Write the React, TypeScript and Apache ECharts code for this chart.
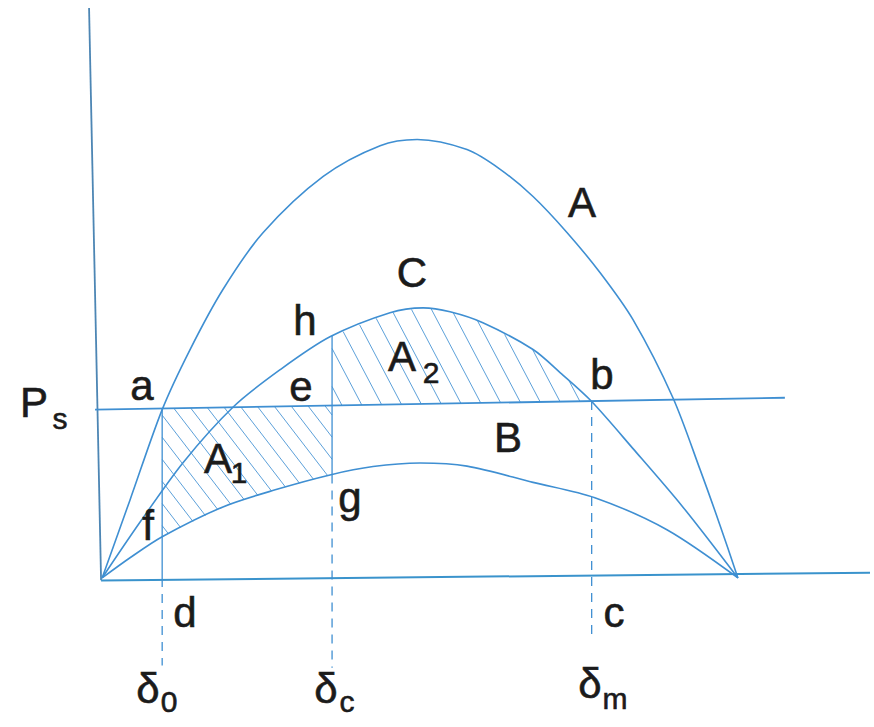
import React, { useEffect, useRef } from "react";
import * as echarts from "echarts";

// Load angle (degrees) vs. power (per unit)
const curveA: number[][] = [
  [0, 0], [7.9, 0.178], [17.0, 0.384], [24.9, 0.521], [34.2, 0.658], [45.6, 0.788],
  [62.6, 0.916], [78.7, 0.986], [89.2, 1.0], [103.3, 0.977], [112.7, 0.932],
  [122.0, 0.87], [131.6, 0.788], [141.0, 0.696], [150.3, 0.589], [161.6, 0.411],
  [169.3, 0.247], [174.9, 0.121], [180, 0],
];
const curveC: number[][] = [
  [0, 0], [10.8, 0.128], [22.9, 0.263], [37.1, 0.39], [50.4, 0.475], [64.5, 0.55],
  [81.5, 0.605], [90.9, 0.616], [98.5, 0.607], [107.8, 0.582], [122.0, 0.521],
  [130.0, 0.466], [138.4, 0.404], [150.3, 0.295], [164.4, 0.162], [180, 0],
];
const curveB: number[][] = [
  [0, 0], [7.9, 0.046], [17.0, 0.094], [34.2, 0.162], [49.0, 0.201], [64.5, 0.235],
  [76.7, 0.254], [90.0, 0.262], [103.3, 0.255], [122.0, 0.218], [139.5, 0.183],
  [159.9, 0.11], [180, 0],
];
const psLine: number[][] = [[-2.0, 0.384], [193.3, 0.411]];
const yAxisLine: number[][] = [[-3.7, 1.3], [-0.3, -0.005]];
const xAxisLine: number[][] = [[-0.3, -0.006], [217.4, 0.012]];
const delta0 = 17.0;
const deltaC = 65.1;
const deltaM = 138.6;
const dashEnd0 = -0.2;
const dashEndC = -0.205;
const dashEndM = -0.135;

const BLUE = "#3f8fd2";
const FONT = "'Liberation Sans', Arial, Helvetica, sans-serif";

function interp(arr: number[][], x: number): number {
  for (let i = 0; i < arr.length - 1; i++) {
    const [x1, y1] = arr[i];
    const [x2, y2] = arr[i + 1];
    if (x >= x1 && x <= x2) return y1 + ((y2 - y1) * (x - x1)) / (x2 - x1);
  }
  return arr[arr.length - 1][1];
}

function regionA1(): number[][] {
  const pts: number[][] = [];
  pts.push([delta0, interp(psLine, delta0)]);
  pts.push([deltaC, interp(psLine, deltaC)]);
  pts.push([deltaC, interp(curveB, deltaC)]);
  const inner = curveB.filter((p) => p[0] > delta0 && p[0] < deltaC).reverse();
  inner.forEach((p) => pts.push(p));
  pts.push([delta0, interp(curveB, delta0)]);
  return pts;
}
function regionA2(): number[][] {
  const pts: number[][] = [];
  pts.push([deltaC, interp(psLine, deltaC)]);
  pts.push([deltaC, interp(curveC, deltaC)]);
  curveC.filter((p) => p[0] > deltaC && p[0] < deltaM).forEach((p) => pts.push(p));
  pts.push([deltaM, interp(psLine, deltaM)]);
  return pts;
}

const labels: { t: string; x: number; y: number; s?: number }[] = [
  { t: "P", x: 34, y: 402 }, { t: "s", x: 60, y: 418, s: 30 },
  { t: "a", x: 142, y: 385 }, { t: "e", x: 301, y: 386 }, { t: "h", x: 305, y: 320 },
  { t: "C", x: 412, y: 272 }, { t: "A", x: 582, y: 202 },
  { t: "A", x: 402, y: 356 }, { t: "2", x: 431, y: 372, s: 30 },
  { t: "b", x: 602, y: 374 }, { t: "B", x: 508, y: 437 },
  { t: "A", x: 218, y: 458 }, { t: "1", x: 239, y: 472, s: 30 },
  { t: "f", x: 148, y: 525 }, { t: "g", x: 350, y: 497 },
  { t: "d", x: 185, y: 612 }, { t: "c", x: 614, y: 612 },
  { t: "δ", x: 148, y: 688 }, { t: "0", x: 169, y: 701, s: 30 },
  { t: "δ", x: 326, y: 688 }, { t: "c", x: 347, y: 701, s: 30 },
  { t: "δ", x: 590, y: 683 }, { t: "m", x: 615, y: 698, s: 30 },
];

export default function App() {
  const ref = useRef<HTMLDivElement>(null);
  useEffect(() => {
    document.body.style.margin = "0";
    const chart = echarts.init(ref.current!, undefined, { renderer: "svg" });
    const lineS = (data: number[][], width: number, type: any = "solid", smooth: any = false, color = BLUE) => ({
      type: "line",
      data,
      showSymbol: false,
      smooth,
      silent: true,
      lineStyle: { color, width, type },
      z: 3,
    });
    const hatch = [
      { poly: regionA1(), slope: 1.3, hs: 17 },
      { poly: regionA2(), slope: 1.9, hs: 20 },
    ];
    chart.setOption({
      animation: false,
      backgroundColor: "#ffffff",
      grid: { left: 88, right: 4, top: 8, bottom: 0 },
      xAxis: { type: "value", min: -4, max: 217.4, show: false },
      yAxis: { type: "value", min: -0.34, max: 1.3, show: false },
      series: [
        lineS(yAxisLine, 1.8, "solid", false, "#4d86b4"),
        lineS(xAxisLine, 2, "solid", false, "#3a93cc"),
        lineS(psLine, 1.8),
        lineS(curveA, 1.6, "solid", 0.3),
        lineS(curveC, 1.6, "solid", 0.3),
        lineS(curveB, 1.6, "solid", 0.3),
        lineS([[delta0, interp(psLine, delta0)], [delta0, 0]], 1.3),
        lineS([[delta0, 0], [delta0, dashEnd0]], 1.3, [9, 7]),
        lineS([[deltaC, interp(curveC, deltaC)], [deltaC, interp(curveB, deltaC)]], 1.3),
        lineS([[deltaC, interp(curveB, deltaC)], [deltaC, dashEndC]], 1.3, [9, 7]),
        lineS([[deltaM, interp(psLine, deltaM)], [deltaM, dashEndM]], 1.3, [9, 7]),
        {
          type: "custom",
          silent: true,
          data: [[0, 0]],
          z: 2,
          renderItem: (_p: any, api: any) => {
            const children: any[] = [];
            hatch.forEach(({ poly, slope, hs }) => {
              const pts = poly.map((p) => api.coord(p));
              const len = Math.hypot(1, slope);
              const d = [1 / len, slope / len];
              const n = [slope / len, -1 / len];
              const spacing = (hs * slope) / len;
              const proj = pts.map((p: number[]) => n[0] * p[0] + n[1] * p[1]);
              const cmin = Math.min(...proj);
              const cmax = Math.max(...proj);
              for (let c = cmin + spacing * 0.5; c < cmax; c += spacing) {
                const hits: number[][] = [];
                for (let i = 0; i < pts.length; i++) {
                  const j = (i + 1) % pts.length;
                  const f1 = proj[i] - c;
                  const f2 = proj[j] - c;
                  if (f1 < 0 !== f2 < 0) {
                    const t = f1 / (f1 - f2);
                    hits.push([
                      pts[i][0] + t * (pts[j][0] - pts[i][0]),
                      pts[i][1] + t * (pts[j][1] - pts[i][1]),
                    ]);
                  }
                }
                hits.sort((a, b) => a[0] * d[0] + a[1] * d[1] - (b[0] * d[0] + b[1] * d[1]));
                for (let k = 0; k + 1 < hits.length; k += 2) {
                  children.push({
                    type: "line",
                    shape: { x1: hits[k][0], y1: hits[k][1], x2: hits[k + 1][0], y2: hits[k + 1][1] },
                    style: { stroke: BLUE, lineWidth: 1, opacity: 0.85 },
                  });
                }
              }
            });
            return { type: "group", children };
          },
        },
      ],
      graphic: labels.map((l) => ({
        type: "text",
        x: l.x,
        y: l.y,
        z: 10,
        style: {
          text: l.t,
          fill: "#1b1b1b",
          stroke: "#1b1b1b",
          lineWidth: 0.6,
          font: `${l.s || 42}px ${FONT}`,
          align: "center",
          verticalAlign: "middle",
        },
      })),
    });
    return () => chart.dispose();
  }, []);
  return (
    <div
      ref={ref}
      style={{ width: 874, height: 727, position: "absolute", left: 0, top: 0 }}
    />
  );
}
